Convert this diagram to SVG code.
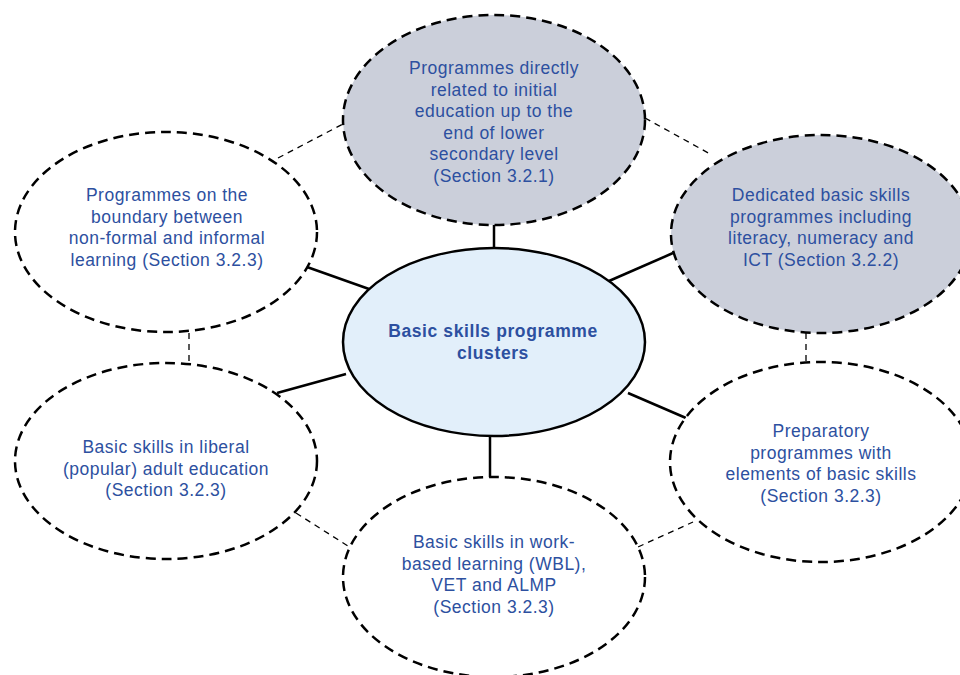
<svg xmlns="http://www.w3.org/2000/svg" width="960" height="675" viewBox="0 0 960 675">
<style>
.dash{fill:#fff;stroke:#000;stroke-width:2.5;stroke-dasharray:10 6}
.grey{fill:#CBCFDA}
.center{fill:#E2EFFA;stroke:#000;stroke-width:2.5}
.t{font-family:"Liberation Sans",Arial,sans-serif;font-size:17.5px;letter-spacing:0.5px;fill:#2D50A0;text-anchor:middle}
.b{font-weight:bold;letter-spacing:0.6px}
.solid{stroke:#000;stroke-width:2.5;fill:none}
.dl{stroke:#000;stroke-width:1.3;stroke-dasharray:6 5;fill:none}
</style>
<rect width="960" height="675" fill="#fff"/>
<g id="connectors">
<line class="solid" x1="494" y1="224" x2="494" y2="248"/>
<line class="solid" x1="307" y1="267" x2="369" y2="289"/>
<line class="solid" x1="277" y1="393" x2="346" y2="374"/>
<line class="solid" x1="609" y1="281" x2="673" y2="253"/>
<line class="solid" x1="628" y1="393" x2="686" y2="418"/>
<line class="solid" x1="490" y1="436" x2="490" y2="478"/>
<line class="dl" x1="278" y1="158" x2="343" y2="124"/>
<line class="dl" x1="645" y1="118" x2="712" y2="155"/>
<line class="dl" x1="806" y1="333" x2="806" y2="362"/>
<line class="dl" x1="189" y1="333" x2="189" y2="363"/>
<line class="dl" x1="296" y1="513" x2="348" y2="546"/>
<line class="dl" x1="638" y1="547" x2="693" y2="522"/>
</g>
<g id="node-top">
<ellipse class="dash grey" cx="494" cy="120" rx="151" ry="105"/>
<text class="t" x="494" y="74">Programmes directly</text>
<text class="t" x="494" y="96">related to initial</text>
<text class="t" x="494" y="117">education up to the</text>
<text class="t" x="494" y="139">end of lower</text>
<text class="t" x="494" y="160">secondary level</text>
<text class="t" x="494" y="182">(Section 3.2.1)</text>
</g>
<g id="node-right-top">
<ellipse class="dash grey" cx="821" cy="234" rx="150" ry="99"/>
<text class="t" x="821" y="201">Dedicated basic skills</text>
<text class="t" x="821" y="222.5">programmes including</text>
<text class="t" x="821" y="244">literacy, numeracy and</text>
<text class="t" x="821" y="265.5">ICT (Section 3.2.2)</text>
</g>
<g id="node-left-top">
<ellipse class="dash" cx="166" cy="232" rx="151" ry="100"/>
<text class="t" x="167" y="201">Programmes on the</text>
<text class="t" x="167" y="222.5">boundary between</text>
<text class="t" x="167" y="244">non-formal and informal</text>
<text class="t" x="167" y="265.5">learning (Section 3.2.3)</text>
</g>
<g id="node-left-bottom">
<ellipse class="dash" cx="166" cy="461" rx="151" ry="98"/>
<text class="t" x="166" y="453">Basic skills in liberal</text>
<text class="t" x="166" y="474.5">(popular) adult education</text>
<text class="t" x="166" y="496">(Section 3.2.3)</text>
</g>
<g id="node-right-bottom">
<ellipse class="dash" cx="821" cy="462" rx="151" ry="100"/>
<text class="t" x="821" y="437">Preparatory</text>
<text class="t" x="821" y="458.5">programmes with</text>
<text class="t" x="821" y="480">elements of basic skills</text>
<text class="t" x="821" y="501.5">(Section 3.2.3)</text>
</g>
<g id="node-bottom">
<ellipse class="dash" cx="494" cy="577" rx="151" ry="100"/>
<text class="t" x="494" y="548">Basic skills in work-</text>
<text class="t" x="494" y="569.5">based learning (WBL),</text>
<text class="t" x="494" y="591">VET and ALMP</text>
<text class="t" x="494" y="612.5">(Section 3.2.3)</text>
</g>
<g id="node-center">
<ellipse class="center" cx="494" cy="342" rx="151" ry="94"/>
<text class="t b" x="493" y="337">Basic skills programme</text>
<text class="t b" x="493" y="359">clusters</text>
</g>
</svg>
